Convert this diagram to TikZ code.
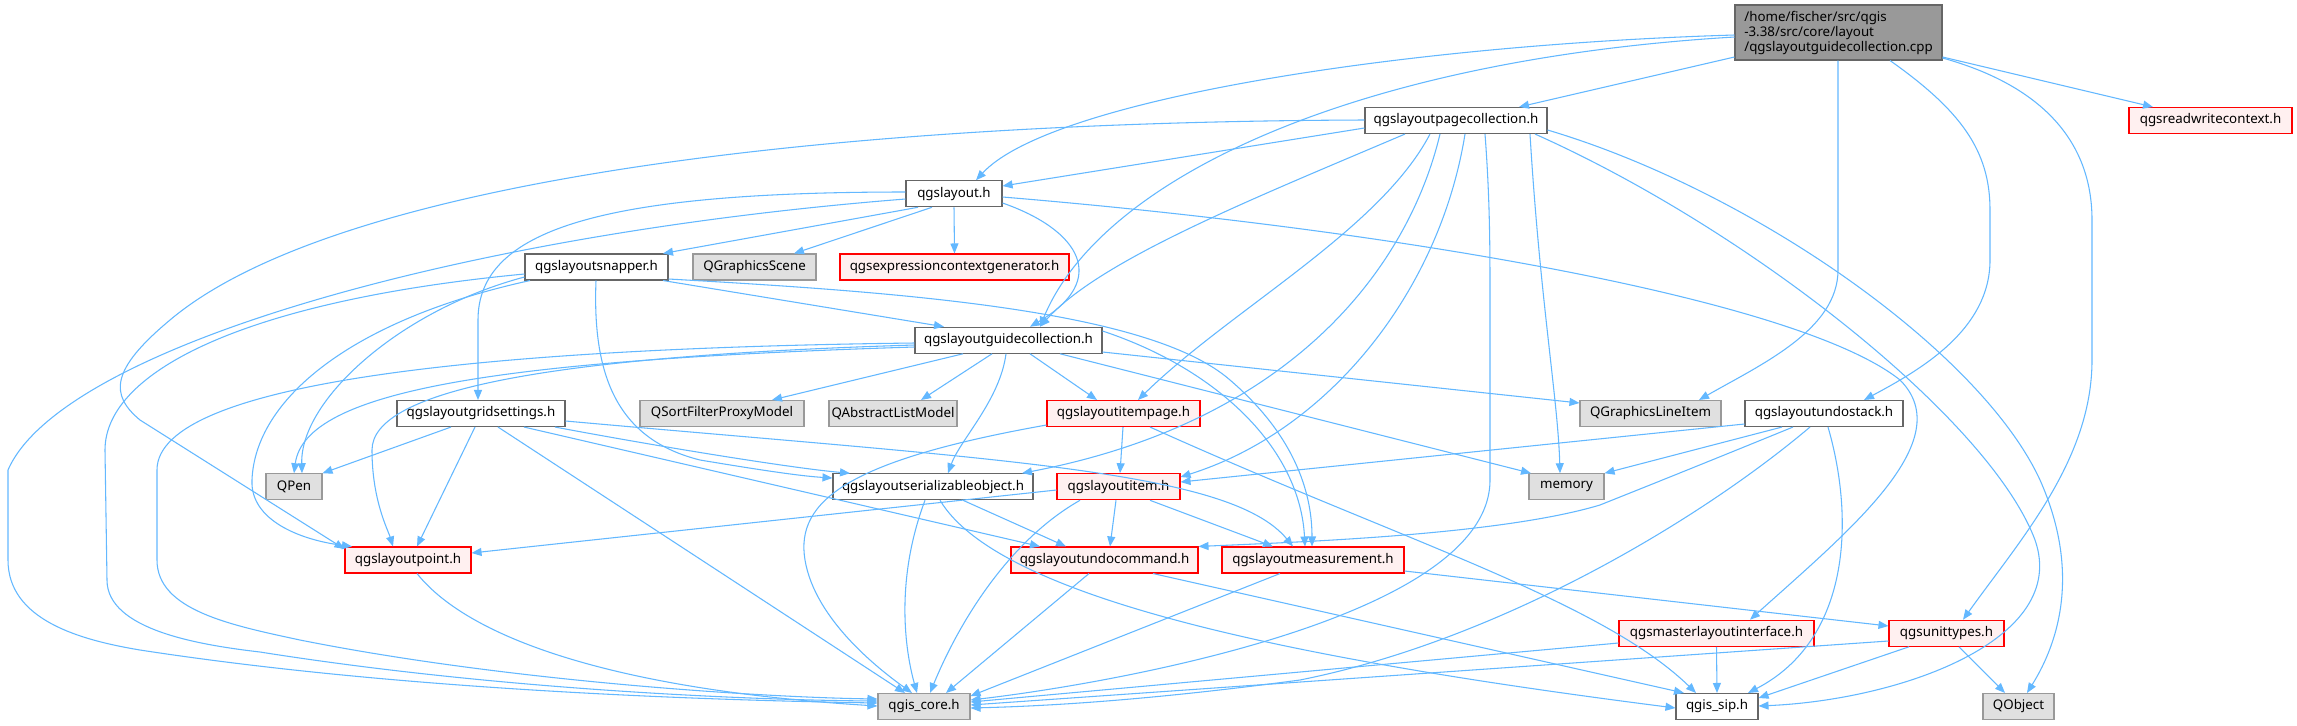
\documentclass[tikz,border=0pt]{standalone}
\usepackage{fontspec}
\setmainfont{Noto Sans}
\usetikzlibrary{arrows.meta,calc}
\definecolor{edgec}{HTML}{63B8FF}
\definecolor{wborder}{HTML}{666666}
\definecolor{gborder}{HTML}{999999}
\definecolor{gfill}{HTML}{E0E0E0}
\definecolor{rborder}{HTML}{FF0000}
\definecolor{rfill}{HTML}{FFF0F0}
\definecolor{rootfill}{HTML}{999999}
\definecolor{rootborder}{HTML}{666666}
\begin{document}
\begin{tikzpicture}[x=0.75bp,y=-0.75bp,
  base/.style={rectangle, line width=0.8bp, minimum height=19.5bp, inner sep=0pt, font=\fontsize{10bp}{12bp}\selectfont, text=black},
  wbox/.style={base, draw=wborder, fill=white},
  gbox/.style={base, draw=gborder, fill=gfill},
  rbox/.style={base, draw=rborder, fill=rfill},
  rootbox/.style={base, draw=rootborder, fill=rootfill, align=left, minimum height=41.25bp, font=\fontsize{10bp}{11.25bp}\selectfont},
  dep/.style={draw=edgec, line width=0.8bp, -{Triangle[length=7.5bp,width=6bp]}}
]
\useasboundingbox (0,0) rectangle (2297,725);
\fill[white] (0,0) rectangle (2297,725);

% nodes
\node[rootbox, minimum width=155.25bp] (R) at (1838.5,32.5) {/home/fischer/src/qgis\\-3.38/src/core/layout\\/qgslayoutguidecollection.cpp};
\node[rbox, minimum width=122.25bp] (RW) at (2210.5,120.5) {qgsreadwritecontext.h};
\node[wbox, minimum width=136.5bp] (PC) at (1456,120.5) {qgslayoutpagecollection.h};
\node[wbox, minimum width=72bp] (L) at (954,193.75) {qgslayout.h};
\node[wbox, minimum width=107.25bp] (SN) at (596.5,267) {qgslayoutsnapper.h};
\node[gbox, minimum width=92.25bp] (QGS) at (754.5,267) {QGraphicsScene};
\node[rbox, minimum width=171.75bp] (EC) at (954.5,267) {qgsexpressioncontextgenerator.h};
\node[wbox, minimum width=140.25bp] (GC) at (1008.5,340.25) {qgslayoutguidecollection.h};
\node[wbox, minimum width=126bp] (GS) at (481,413.5) {qgslayoutgridsettings.h};
\node[gbox, minimum width=123bp] (QSF) at (722,413.5) {QSortFilterProxyModel};
\node[gbox, minimum width=96bp] (QAL) at (893,413.5) {QAbstractListModel};
\node[rbox, minimum width=114.75bp] (IP) at (1123.5,413.5) {qgslayoutitempage.h};
\node[gbox, minimum width=105.75bp] (QGLI) at (1650.5,413.5) {QGraphicsLineItem};
\node[wbox, minimum width=118.5bp] (US) at (1824,413.5) {qgslayoutundostack.h};
\node[gbox, minimum width=42bp] (QPen) at (294,486.75) {QPen};
\node[wbox, minimum width=150bp] (SO) at (933,486.75) {qgslayoutserializableobject.h};
\node[rbox, minimum width=92.25bp] (IT) at (1118.5,486.75) {qgslayoutitem.h};
\node[gbox, minimum width=56.25bp] (MEM) at (1566.5,486.75) {memory};
\node[rbox, minimum width=94.5bp] (PT) at (408,560) {qgslayoutpoint.h};
\node[rbox, minimum width=140.25bp] (UC) at (1104.5,560) {qgslayoutundocommand.h};
\node[rbox, minimum width=136.5bp] (MS) at (1313,560) {qgslayoutmeasurement.h};
\node[rbox, minimum width=146.25bp] (MI) at (1716.5,633.25) {qgsmasterlayoutinterface.h};
\node[rbox, minimum width=86.25bp] (UT) at (1946.5,633.25) {qgsunittypes.h};
\node[gbox, minimum width=69bp] (QC) at (924,706.5) {qgis\_core.h};
\node[wbox, minimum width=61.5bp] (SIP) at (1717,706.5) {qgis\_sip.h};
\node[gbox, minimum width=53.25bp] (QO) at (2018.5,706.5) {QObject};

% root
\draw[dep] (R.west |- 0,35) .. controls (1400,45) and (1050,100) .. (L.north -| 976,0);
\draw[dep] (R.west |- 0,57) -- (PC.north -| 1519,0);
\draw[dep] (R.west |- 0,37) .. controls (1350,60) and (1100,180) .. (GC.north -| 1040,0);
\draw[dep] (R.east |- 0,57) -- (RW.north -| 2153,0);
\draw[dep] (R.south -| 1838,0) -- (1838,270) .. controls (1838,330) and (1760,365) .. (QGLI.north -| 1699,0);
\draw[dep] (R.south -| 1890,0) .. controls (1960,110) and (1990,150) .. (1990,210) -- (1990,260) .. controls (1990,330) and (1920,370) .. (US.north -| 1864,0);
\draw[dep] (R.east |- 0,58) .. controls (2040,85) and (2092,140) .. (2092,220) -- (2092,360) .. controls (2092,460) and (2020,540) .. (UT.north -| 1963,0);

% pagecollection
\draw[dep] (PC.west |- 0,128) -- (L.east |- 0,186);
\draw[dep] (PC.west |- 0,120) .. controls (800,122) and (330,185) .. (170,320) .. controls (110,370) and (110,395) .. (140,420) -- (PT.west |- 0,549);
\draw[dep] (PC.south -| 1405,0) .. controls (1250,200) and (1100,260) .. (GC.north -| 1040,0);
\draw[dep] (PC.south -| 1430,0) .. controls (1380,230) and (1230,310) .. (IP.north -| 1138,0);
\draw[dep] (PC.south -| 1440,0) .. controls (1410,260) and (1300,420) .. (SO.north -| 1022,0);
\draw[dep] (PC.south -| 1465,0) .. controls (1440,290) and (1330,430) .. (IT.east |- 0,477);
\draw[dep] (PC.south -| 1530,0) .. controls (1540,300) and (1558,400) .. (MEM.north -| 1560,0);
\draw[dep] (PC.south -| 1485,0) .. controls (1490,200) and (1490,250) .. (1490,300) -- (1490,480) .. controls (1490,620) and (1100,685) .. (QC.east |- 0,700);
\draw[dep] (PC.south -| 1535,0) .. controls (1750,230) and (1990,420) .. (2035,540) .. controls (2070,640) and (1900,700) .. (SIP.east |- 0,706);
\draw[dep] (PC.east |- 0,130) .. controls (1750,190) and (1980,350) .. (2040,480) .. controls (2080,570) and (2060,640) .. (QO.north -| 2027,0);

% qgslayout.h
\draw[dep] (L.south -| 918,0) -- (SN.north -| 663,0);
\draw[dep] (L.south -| 932,0) -- (QGS.north -| 794,0);
\draw[dep] (L.south) -- (EC.north);
\draw[dep] (L.east |- 0,203) .. controls (1080,230) and (1110,280) .. (GC.north -| 1030,0);
\draw[dep] (L.west |- 0,192) .. controls (600,192) and (478,230) .. (478,320) -- (GS.north -| 478,0);
\draw[dep] (L.west |- 0,199) .. controls (450,235) and (60,350) .. (8,470) -- (8,560) .. controls (8,620) and (80,640) .. (140,650) .. controls (400,690) and (700,700) .. (QC.west |- 0,703);
\draw[dep] (L.east |- 0,197) .. controls (1400,230) and (1800,300) .. (1900,380) .. controls (1960,440) and (1850,530) .. (MI.north -| 1750,0);

% snapper
\draw[dep] (SN.south -| 663,0) -- (GC.north -| 944,0);
\draw[dep] (SN.west |- 0,277) .. controls (400,310) and (300,400) .. (QPen.north -| 302,0);
\draw[dep] (SN.south -| 530,0) .. controls (350,320) and (255,400) .. (252,480) .. controls (250,520) and (300,540) .. (PT.north -| 352,0);
\draw[dep] (SN.west |- 0,274) .. controls (250,300) and (105,370) .. (105,450) -- (107,580) .. controls (107,630) and (200,645) .. (260,652) .. controls (500,690) and (750,700) .. (QC.west |- 0,701);
\draw[dep] (SN.south -| 596,0) .. controls (592,380) and (620,440) .. (700,460) .. controls (760,470) and (800,476) .. (SO.west |- 0,478);
\draw[dep] (SN.east |- 0,279) .. controls (900,292) and (1150,310) .. (1230,380) .. controls (1300,440) and (1312,500) .. (MS.north -| 1312,0);

% guidecollection
\draw[dep] (GC.west |- 0,347) .. controls (500,360) and (305,390) .. (QPen.north -| 294,0);
\draw[dep] (GC.west |- 0,345) .. controls (550,356) and (372,390) .. (372,450) .. controls (372,500) and (388,530) .. (PT.north -| 393,0);
\draw[dep] (GC.west |- 0,343) .. controls (500,348) and (157,380) .. (157,470) -- (157,560) .. controls (157,610) and (230,625) .. (300,640) .. controls (500,680) and (750,697) .. (QC.west |- 0,699);
\draw[dep] (GC.south -| 963,0) -- (QSF.north -| 772,0);
\draw[dep] (GC.south -| 992,0) -- (QAL.north -| 921,0);
\draw[dep] (GC.south -| 1030,0) -- (IP.north -| 1097,0);
\draw[dep] (GC.south -| 1006,0) .. controls (1000,400) and (960,440) .. (SO.north -| 948,0);
\draw[dep] (GC.east |- 0,331) .. controls (1220,370) and (1300,450) .. (MS.north -| 1305,0);
\draw[dep] (GC.south -| 1060,0) -- (MEM.north -| 1531,0);
\draw[dep] (GC.east |- 0,352) -- (QGLI.west |- 0,403);

% gridsettings
\draw[dep] (GS.south -| 451,0) -- (QPen.north east);
\draw[dep] (GS.south -| 475,0) -- (PT.north -| 417,0);
\draw[dep] (GS.south -| 498,0) -- (QC.north -| 905,0);
\draw[dep] (GS.south -| 555,0) .. controls (650,445) and (790,468) .. (SO.north -| 850,0);
\draw[dep] (GS.south -| 524,0) -- (UC.north -| 1040,0);
\draw[dep] (GS.east |- 0,421) .. controls (1000,460) and (1230,470) .. (MS.north -| 1293,0);

% itempage
\draw[dep] (IP.south -| 1123,0) -- (IT.north -| 1120,0);
\draw[dep] (IP.west |- 0,425) .. controls (850,460) and (795,500) .. (805,560) .. controls (815,620) and (880,670) .. (QC.north -| 912,0);
\draw[dep] (IP.south -| 1150,0) .. controls (1400,540) and (1600,600) .. (SIP.north -| 1696,0);

% serializable
\draw[dep] (SO.south -| 963,0) -- (UC.north -| 1066,0);
\draw[dep] (SO.south -| 925,0) .. controls (895,580) and (905,650) .. (QC.north -| 917,0);
\draw[dep] (SO.south -| 940,0) .. controls (1000,600) and (1300,660) .. (SIP.west |- 0,708);

% item
\draw[dep] (IT.west |- 0,490) -- (PT.east |- 0,553);
\draw[dep] (IT.south -| 1116,0) -- (UC.north -| 1110,0);
\draw[dep] (IT.south -| 1150,0) -- (MS.north -| 1273,0);
\draw[dep] (IT.south -| 1080,0) .. controls (1010,540) and (960,620) .. (QC.north -| 930,0);

% undocommand
\draw[dep] (UC.south -| 1089,0) -- (QC.north -| 946,0);
\draw[dep] (UC.south -| 1153,0) -- (SIP.north -| 1684,0);

% measurement
\draw[dep] (MS.south -| 1280,0) -- (QC.east |- 0,696);
\draw[dep] (MS.east |- 0,571) -- (UT.west |- 0,626);

% master
\draw[dep] (MI.west |- 0,643) -- (QC.east |- 0,702);
\draw[dep] (MI.south) -- (SIP.north);

% unittypes
\draw[dep] (UT.west |- 0,641) -- (QC.east |- 0,705);
\draw[dep] (UT.south -| 1909,0) -- (SIP.east |- 0,698);
\draw[dep] (UT.south -| 1959,0) -- (QO.north -| 2005,0);

% undostack
\draw[dep] (US.west |- 0,424) -- (IT.east |- 0,482);
\draw[dep] (US.south -| 1782,0) -- (MEM.north east);
\draw[dep] (US.south -| 1793,0) .. controls (1700,465) and (1650,485) .. (1600,505) .. controls (1500,535) and (1300,542) .. (UC.north east);
\draw[dep] (US.south -| 1810,0) .. controls (1700,520) and (1500,640) .. (1300,680) .. controls (1150,700) and (1050,706) .. (QC.east |- 0,708);
\draw[dep] (US.south -| 1828,0) .. controls (1855,520) and (1850,640) .. (SIP.north -| 1748,0);

% point
\draw[dep] (PT.south -| 417,0) .. controls (470,640) and (620,690) .. (QC.west |- 0,706);
\end{tikzpicture}
\end{document}
